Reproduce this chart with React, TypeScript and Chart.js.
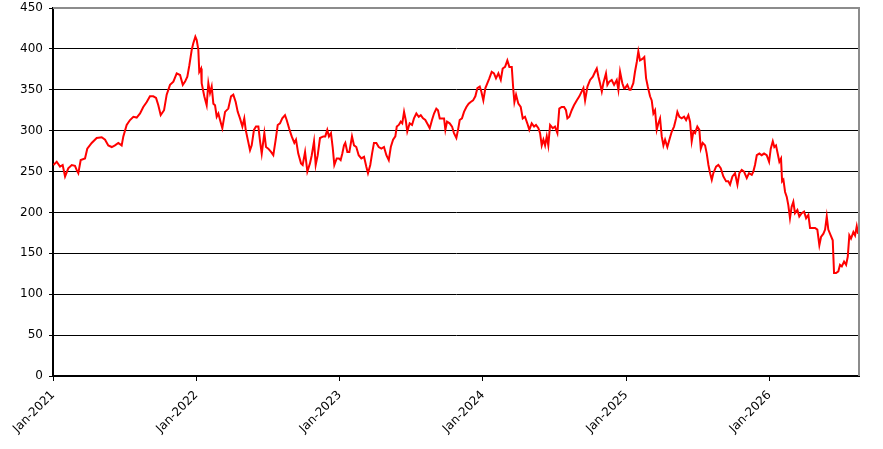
import { useEffect, useRef } from 'react';
import { Chart } from 'chart.js/auto';

// months since Jan-2021, and the closing value at that point
const months = [
  0.03, 0.31, 0.59, 0.81, 1.01, 1.28, 1.57, 1.84, 1.98, 2.12, 2.32, 2.68, 2.87, 3.24, 3.66, 4.08, 4.36, 4.63, 4.92, 5.19,
  5.47, 5.75, 5.89, 6.17, 6.45, 6.73, 7.01, 7.29, 7.56, 7.85, 8.12, 8.4, 8.63, 8.82, 9.02, 9.3, 9.52, 9.8, 10.08, 10.36,
  10.64, 10.87, 11.06, 11.25, 11.42, 11.62, 11.75, 11.92, 12.03, 12.17, 12.25, 12.4, 12.45, 12.67, 12.87, 13.01, 13.15,
  13.29, 13.43, 13.57, 13.71, 13.85, 13.99, 14.18, 14.41, 14.68, 14.91, 15.1, 15.3, 15.47, 15.66, 15.86, 16.02, 16.14,
  16.31, 16.5, 16.64, 16.83, 17.0, 17.2, 17.34, 17.48, 17.7, 17.84, 18.03, 18.26, 18.45, 18.65, 18.82, 19.01, 19.2,
  19.43, 19.57, 19.77, 19.99, 20.21, 20.35, 20.54, 20.77, 20.91, 21.11, 21.3, 21.52, 21.67, 21.86, 22.0, 22.17, 22.36,
  22.64, 22.8, 22.97, 23.11, 23.28, 23.42, 23.56, 23.76, 23.95, 24.09, 24.23, 24.37, 24.48, 24.65, 24.82, 25.04, 25.21,
  25.4, 25.6, 25.82, 26.05, 26.24, 26.38, 26.57, 26.72, 26.88, 27.08, 27.28, 27.5, 27.72, 27.92, 28.12, 28.29, 28.48,
  28.67, 28.79, 28.96, 29.12, 29.25, 29.4, 29.54, 29.67, 29.87, 30.07, 30.23, 30.43, 30.63, 30.8, 30.99, 31.18, 31.41,
  31.55, 31.74, 31.91, 32.1, 32.24, 32.39, 32.56, 32.75, 32.86, 33.0, 33.22, 33.42, 33.58, 33.78, 33.92, 34.06, 34.25,
  34.42, 34.62, 34.81, 34.98, 35.18, 35.37, 35.54, 35.74, 35.87, 36.04, 36.21, 36.32, 36.54, 36.74, 36.93, 37.1, 37.3,
  37.5, 37.66, 37.86, 38.05, 38.22, 38.42, 38.55, 38.64, 38.78, 38.97, 39.17, 39.34, 39.53, 39.72, 39.89, 40.09, 40.29,
  40.45, 40.65, 40.79, 40.93, 41.07, 41.21, 41.35, 41.48, 41.63, 41.85, 42.04, 42.24, 42.4, 42.6, 42.8, 42.96, 43.08,
  43.24, 43.44, 43.63, 43.86, 44.08, 44.28, 44.42, 44.56, 44.76, 44.98, 45.21, 45.4, 45.54, 45.68, 45.81, 45.96, 46.09,
  46.31, 46.43, 46.59, 46.79, 46.99, 47.21, 47.35, 47.49, 47.68, 47.82, 47.91, 48.1, 48.27, 48.38, 48.6, 48.74, 48.89,
  49.02, 49.16, 49.39, 49.52, 49.67, 49.81, 50.0, 50.14, 50.28, 50.42, 50.56, 50.7, 50.84, 50.98, 51.12, 51.26, 51.45,
  51.62, 51.82, 52.01, 52.18, 52.29, 52.46, 52.65, 52.85, 53.02, 53.21, 53.35, 53.49, 53.63, 53.77, 53.96, 54.13, 54.25,
  54.41, 54.61, 54.75, 54.89, 55.03, 55.17, 55.3, 55.53, 55.72, 55.92, 56.14, 56.37, 56.55, 56.7, 56.9, 57.12, 57.32,
  57.48, 57.68, 57.87, 58.1, 58.29, 58.52, 58.65, 58.79, 58.94, 59.16, 59.35, 59.55, 59.77, 59.97, 60.11, 60.28, 60.41,
  60.55, 60.69, 60.83, 60.97, 61.06, 61.17, 61.31, 61.45, 61.58, 61.72, 61.86, 62.0, 62.14, 62.34, 62.5, 62.7, 62.9,
  63.07, 63.26, 63.4, 63.63, 63.82, 64.01, 64.18, 64.32, 64.52, 64.66, 64.8, 64.93, 65.13, 65.3, 65.41, 65.58, 65.77,
  65.91, 66.06, 66.25, 66.42, 66.56, 66.69, 66.83, 67.03, 67.17, 67.31, 67.42,
];

const prices = [
  258, 262, 256, 258, 244, 254, 258, 257, 252, 248, 264, 266, 278, 285, 291, 292, 289, 282, 280, 282,
  285, 282, 293, 307, 313, 317, 316, 321, 329, 335, 342, 342, 340, 331, 319, 325, 344, 356, 360, 370,
  368, 356, 360, 366, 380, 399, 407, 415, 411, 399, 372, 376, 358, 342, 331, 358, 346,
  354, 333, 331, 317, 321, 313, 303, 323, 327, 342, 344, 335, 323, 315, 305, 315, 301,
  289, 276, 282, 301, 305, 305, 287, 272, 297, 280, 278, 274, 270, 289, 307, 309, 315,
  319, 313, 303, 293, 285, 289, 272, 260, 258, 274, 250, 260, 270, 287, 258, 270, 291,
  293, 293, 301, 293, 297, 280, 258, 266, 266, 264, 272, 282, 285, 274, 274, 293, 282,
  280, 270, 266, 268, 256, 248, 258, 272, 285, 285, 280, 278, 280, 270, 264, 280, 289,
  293, 305, 307, 311, 309, 323, 313, 299, 309, 307, 315, 321, 317, 319, 315, 313, 307,
  303, 313, 321, 327, 325, 315, 315, 315, 301, 311, 309, 305, 297, 291, 301, 313, 315,
  323, 329, 333, 335, 337, 342, 352, 354, 348, 337, 352, 356, 364, 372, 370, 364, 370,
  362, 376, 378, 386, 378, 378, 350, 335, 344, 333, 329, 315, 317, 309, 301, 309, 305,
  307, 303, 297, 282, 289, 282, 293, 282, 307, 303, 305, 297, 327, 329, 329, 325, 315,
  317, 325, 331, 337, 342, 348, 352, 337, 354, 362, 366, 372, 376, 366, 358, 348, 358,
  370, 356, 360, 362, 356, 362, 350, 372, 358, 352, 352, 356, 350, 350, 358, 372, 384,
  397, 386, 388, 390, 364, 354, 342, 337, 321, 325, 301, 309, 315, 293, 282, 289, 280,
  289, 299, 305, 315, 323, 317, 315, 317, 313, 319, 311, 287, 299, 297, 305, 301, 278,
  285, 282, 272, 258, 248, 240, 248, 256, 258, 254, 244, 238, 238, 234, 244, 248, 234,
  248, 252, 250, 242, 248, 246, 250, 258, 270, 272, 270, 272, 270, 262, 278, 287, 280,
  282, 272, 262, 266, 238, 240, 225, 219, 209, 193, 207, 213, 199, 203, 195, 199, 201,
  193, 197, 181, 181, 181, 179, 160, 170, 174, 179, 195, 179, 172, 166, 126, 126, 128,
  136, 134, 140, 136, 146, 172, 168, 176, 172, 183, 174,
];

const tickMonths = [0, 12, 24, 36, 48, 60];
const tickLabels = ['Jan-2021', 'Jan-2022', 'Jan-2023', 'Jan-2024', 'Jan-2025', 'Jan-2026'];
const lastMonth = 67.5;

const font = { family: "'DejaVu Sans', sans-serif", size: 12 };

// gray frame on the top and right edge of the plot
const framePlugin = {
  id: 'frame',
  afterDraw(chart: Chart) {
    const { ctx, chartArea } = chart;
    ctx.save();
    ctx.strokeStyle = '#8c8c8c';
    ctx.lineWidth = 2;
    ctx.beginPath();
    ctx.moveTo(chartArea.left, chartArea.top);
    ctx.lineTo(chartArea.right, chartArea.top);
    ctx.lineTo(chartArea.right, chartArea.bottom);
    ctx.stroke();
    ctx.restore();
  },
};

export default function App() {
  const canvasRef = useRef<HTMLCanvasElement>(null);

  useEffect(() => {
    if (!canvasRef.current) return;

    const chart = new Chart(canvasRef.current, {
      type: 'line',
      data: {
        datasets: [{
          data: months.map((m, i) => ({ x: m, y: prices[i] })),
          borderColor: '#ff0000',
          borderWidth: 2,
          pointRadius: 0,
          tension: 0,
          fill: false,
        }],
      },
      options: {
        animation: false,
        responsive: true,
        maintainAspectRatio: false,
        layout: { padding: { top: 8, right: 24, left: 0, bottom: 0 } },
        plugins: { legend: { display: false }, tooltip: { enabled: false } },
        scales: {
          x: {
            type: 'linear',
            min: 0,
            max: lastMonth,
            afterBuildTicks: (scale: any) => {
              scale.ticks = tickMonths.map(v => ({ value: v }));
            },
            afterFit: (scale: any) => {
              scale.height = 73;
              scale.paddingLeft = 0;
              scale.paddingRight = 0;
            },
            ticks: {
              callback: (v: any) => tickLabels[tickMonths.indexOf(Number(v))],
              minRotation: 45,
              maxRotation: 45,
              color: '#000',
              font,
              padding: 7,
            },
            grid: { drawOnChartArea: false, color: '#000', tickLength: 5 },
            border: { color: '#000', width: 2 },
          },
          y: {
            min: 0,
            max: 450,
            afterFit: (scale: any) => {
              scale.width = 53;
              scale.paddingTop = 0;
              scale.paddingBottom = 0;
            },
            ticks: { stepSize: 50, color: '#000', font, padding: 6 },
            grid: { color: '#000', lineWidth: 1, tickLength: 4 },
            border: { color: '#000', width: 2 },
          },
        },
      },
      plugins: [framePlugin],
    });

    return () => chart.destroy();
  }, []);

  return (
    <div style={{ position: 'absolute', left: 0, top: 0, width: 883, height: 449, background: '#fff' }}>
      <canvas ref={canvasRef} />
    </div>
  );
}
